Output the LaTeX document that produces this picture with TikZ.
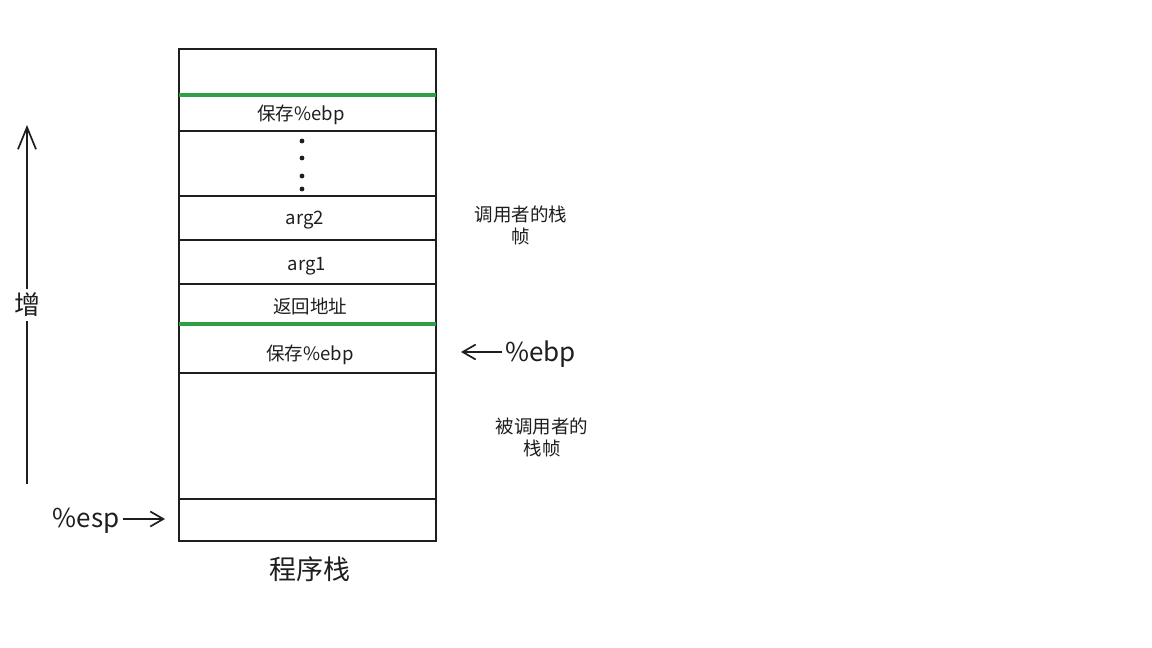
\documentclass[tikz,border=0pt]{standalone}
\usepackage{fontspec}
\setmainfont{Noto Sans CJK SC}
\usetikzlibrary{arrows.meta}
\definecolor{ink}{HTML}{1E1E1E}
\definecolor{grn}{HTML}{2F9E44}
\newcommand{\sepline}[1]{
\draw[ink,line width=1.7pt] (179,#1)--(436,#1);}
\newcommand{\grnline}[1]{
\draw[grn,line width=3.2pt] (179,#1)--(436,#1);}
\newcommand{\cell}[4]{
\node[text=ink,font=\fontsize{18.5}{20}\selectfont] (#1) at (#2,#3) {#4};}

\begin{document}
\begin{tikzpicture}[x=1pt,y=-1pt]
\useasboundingbox[fill=white] (0,0) rectangle (1152,648);
\draw[ink,line width=1.7pt] (179,49) rectangle (436,541);
\foreach \y in {131,196,240,284,373,499}{
	\sepline{\y}
}
\grnline{95}
\grnline{324}
\foreach \y in {141,158,176,189}{
	\fill[ink] (302,\y) circle (2.4);
}
\cell{top}{301}{115}{保存\%ebp}
\cell{argb}{305}{220}{arg2}
\cell{arga}{307}{266}{arg1}
\cell{ret}{310}{306}{返回地址}
\cell{save}{310}{355}{保存\%ebp}
\node[text=ink,font=\fontsize{18.5}{22}\selectfont,align=center] (caller) at (521,225) {调用者的栈\\帧};
\node[text=ink,font=\fontsize{18.5}{22}\selectfont,align=center] (callee) at (542,437) {被调用者的\\栈帧};
\node[text=ink,font=\fontsize{27}{28}\selectfont] (stack) at (310,569) {程序栈};
% registers
\node[text=ink,font=\fontsize{26}{28}\selectfont,anchor=west] (ebp) at (502,354) {\%ebp};
\coordinate (ebptip) at (461,352);
\draw[ink,line width=1.7pt,-{Straight Barb[length=13pt,width=15pt]}] (ebp.west|-ebptip)--(ebptip);
\node[text=ink,font=\fontsize{26}{28}\selectfont,anchor=east] (esp) at (123,521) {\%esp};
\coordinate (esptip) at (165,519);
\draw[ink,line width=1.7pt,-{Straight Barb[length=13pt,width=15pt]}] (esp.east|-esptip)--(esptip);
% growth
\coordinate (lo) at (27,484);
\coordinate (hi) at (27,125);
\draw[ink,line width=1.7pt,-{Straight Barb[length=22pt,width=18pt]}] (lo)--(hi);
\node[text=ink,fill=white,inner sep=4pt,font=\fontsize{26}{28}\selectfont] (grow) at (27,305) {增};
\end{tikzpicture}
\end{document}
